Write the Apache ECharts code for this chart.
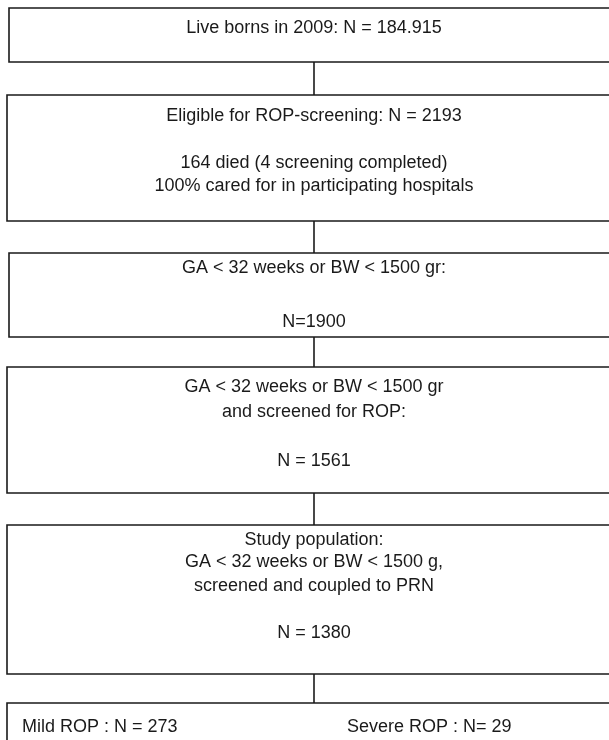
<!DOCTYPE html>
<html>
<head>
<meta charset="utf-8">
<script src="https://cdn.jsdelivr.net/npm/echarts@6/dist/echarts.min.js"></script>
<style>
html,body{margin:0;padding:0;background:#ffffff;}
#chart{width:609px;height:740px;}
</style>
</head>
<body>
<div id="chart"></div>
<script>
// ---- Data (flowchart content) ----
const stageLines = [
  ['Live borns in 2009: N = 184.915'],
  ['Eligible for ROP-screening: N = 2193', '164 died (4 screening completed)', '100% cared for in participating hospitals'],
  ['GA < 32 weeks or BW < 1500 gr:', 'N=1900'],
  ['GA < 32 weeks or BW < 1500 gr', 'and screened for ROP:', 'N = 1561'],
  ['Study population:', 'GA < 32 weeks or BW < 1500 g,', 'screened and coupled to PRN', 'N = 1380']
];
const outcomeLabels = ['Mild ROP : N = 273', 'Severe ROP : N= 29'];

// ---- Layout (coordinate space of the hidden axes) ----
const boxLeft   = [9, 7, 9, 7, 7, 7];
const boxRight  = [619, 621, 619, 621, 621, 621];
const boxTop    = [8, 95, 253, 367, 525, 703];
const boxBottom = [62, 221, 337, 493, 674, 770];
const lineY = [
  [28],
  [116, 163, 186.5],
  [268, 322],
  [387, 412, 461],
  [540, 562.5, 586, 633]
];
const centerX = 314;
const outcomeX = [22, 347];
const outcomeY = 727;

// ---- Build series data ----
const boxData = boxLeft.map((l, i) => [l, boxTop[i], boxRight[i], boxBottom[i]]);
const connData = [];
for (let i = 0; i < boxTop.length - 1; i++) {
  connData.push([centerX, boxBottom[i], centerX, boxTop[i + 1]]);
}
const textItems = [];
stageLines.forEach((lines, i) => {
  lines.forEach((t, j) => textItems.push({ text: t, x: centerX, y: lineY[i][j], align: 'center' }));
});
outcomeLabels.forEach((t, i) => textItems.push({ text: t, x: outcomeX[i], y: outcomeY, align: 'left' }));

const FONT = '18px "Liberation Sans", Arial, Helvetica, sans-serif';
const INK = '#1a1a1a';

const chart = echarts.init(document.getElementById('chart'), null, { renderer: 'canvas' });
chart.setOption({
  animation: false,
  backgroundColor: '#ffffff',
  grid: { left: 0, right: 0, top: 0, bottom: 0 },
  xAxis: { type: 'value', min: 0, max: 609, show: false },
  yAxis: { type: 'value', min: 0, max: 740, inverse: true, show: false },
  series: [
    {
      type: 'custom',
      clip: false,
      data: boxData,
      renderItem: function (params, api) {
        const p0 = api.coord([api.value(0), api.value(1)]);
        const p1 = api.coord([api.value(2), api.value(3)]);
        return {
          type: 'rect',
          shape: { x: p0[0], y: p0[1], width: p1[0] - p0[0], height: p1[1] - p0[1] },
          style: { fill: 'none', stroke: INK, lineWidth: 1.6 }
        };
      }
    },
    {
      type: 'custom',
      clip: false,
      data: connData,
      renderItem: function (params, api) {
        const p0 = api.coord([api.value(0), api.value(1)]);
        const p1 = api.coord([api.value(2), api.value(3)]);
        return {
          type: 'line',
          shape: { x1: p0[0], y1: p0[1], x2: p1[0], y2: p1[1] },
          style: { stroke: INK, lineWidth: 1.6 }
        };
      }
    },
    {
      type: 'custom',
      clip: false,
      data: textItems.map(t => [t.x, t.y]),
      renderItem: function (params, api) {
        const p = api.coord([api.value(0), api.value(1)]);
        const item = textItems[params.dataIndex];
        return {
          type: 'text',
          x: p[0],
          y: p[1],
          style: {
            text: item.text,
            fill: INK,
            font: FONT,
            align: item.align,
            verticalAlign: 'middle'
          }
        };
      }
    }
  ]
});
</script>
</body>
</html>
